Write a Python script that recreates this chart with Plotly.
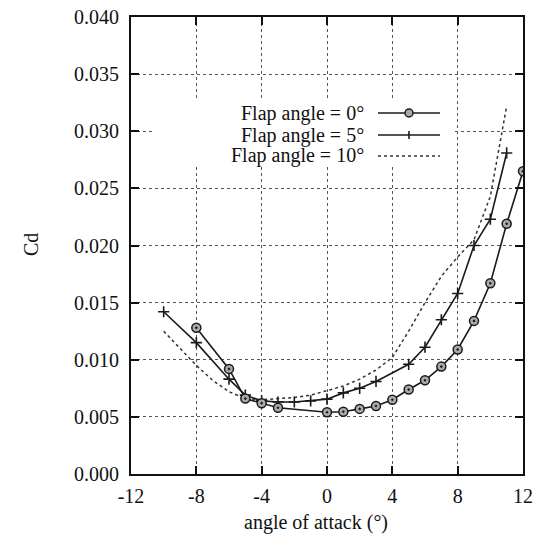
import plotly.graph_objects as go

# angle of attack (deg) and Cd for each flap angle
aoa_0 = [-8, -6, -5, -4, -3, 0, 1, 2, 3, 4, 5, 6, 7, 8, 9, 10, 11, 12]
cd_0 = [0.0128, 0.0092, 0.0066, 0.0062, 0.0058, 0.0054, 0.00545, 0.0057, 0.00595,
        0.0065, 0.0074, 0.0082, 0.0094, 0.0109, 0.0134, 0.0167, 0.0219, 0.0265]

aoa_5 = [-10, -8, -6, -5, -4, -3, -2, -1, 0, 1, 2, 3, 5, 6, 7, 8, 9, 10, 11]
cd_5 = [0.0142, 0.0115, 0.0083, 0.0069, 0.0064, 0.0063, 0.0063, 0.0064, 0.00655,
        0.0071, 0.0075, 0.0081, 0.0096, 0.0111, 0.0135, 0.0158, 0.0200, 0.0223, 0.0281]

aoa_10 = [-10, -9, -8, -7, -6, -5, -4, -3, -2, -1, 0, 1, 2, 3, 4, 5, 6, 7, 8, 9, 10, 11]
cd_10 = [0.0125, 0.0110, 0.0095, 0.0082, 0.0072, 0.0066, 0.0065, 0.0066, 0.0067,
         0.0069, 0.0073, 0.0077, 0.0083, 0.0091, 0.0102, 0.0125, 0.0150, 0.0173,
         0.0190, 0.0205, 0.0243, 0.0322]

legend_labels = ["Flap angle = 0°", "Flap angle = 5°", "Flap angle = 10°"]
x_ticks = [-12, -8, -4, 0, 4, 8, 12]

FONT = "Liberation Serif"
FS = 20
TXT = "#111"
W, H = 541, 543
# plot area in page pixels: x 131..523, y 17..474
PL, PR, PT, PB = 131, 523, 17, 474
L, R, T, B = PL, W - PR, PT, H - PB

fig = go.Figure()
fig.add_trace(go.Scatter(x=aoa_10, y=cd_10, mode="lines",
                         line=dict(color="#333", width=1.5, dash="dot"),
                         name=legend_labels[2], showlegend=False))
fig.add_trace(go.Scatter(x=aoa_5, y=cd_5, mode="lines+markers",
                         line=dict(color="#1a1a1a", width=1.6),
                         marker=dict(symbol="cross-thin", size=8, line=dict(color="#1a1a1a", width=1.6)),
                         name=legend_labels[1], showlegend=False))
fig.add_trace(go.Scatter(x=aoa_0, y=cd_0, mode="lines+markers",
                         line=dict(color="#1a1a1a", width=1.6),
                         marker=dict(symbol="circle-dot", size=9, color="#aaa",
                                     line=dict(color="#1a1a1a", width=1.5)),
                         name=legend_labels[0], showlegend=False))

def px2paper_x(px):
    return (px - PL) / (PR - PL)

def px2paper_y(py):
    return (PB - py) / (PB - PT)

shapes = []
# white legend box
shapes.append(dict(type="rect", xref="paper", yref="paper",
                   x0=px2paper_x(155), x1=px2paper_x(452),
                   y0=px2paper_y(167), y1=px2paper_y(100),
                   fillcolor="white", line=dict(width=0), layer="above"))
annotations = []
rows = [113, 135, 156]
for i, (lab, ry) in enumerate(zip(legend_labels, rows)):
    annotations.append(dict(xref="paper", yref="paper", x=px2paper_x(366), y=px2paper_y(ry),
                            text=lab, showarrow=False, xanchor="right", yanchor="middle",
                            font=dict(family=FONT, size=FS, color=TXT)))
    dash = "dot" if i == 2 else "solid"
    col = "#333" if i == 2 else "#1a1a1a"
    shapes.append(dict(type="line", xref="paper", yref="paper",
                       x0=px2paper_x(378), x1=px2paper_x(440),
                       y0=px2paper_y(ry), y1=px2paper_y(ry),
                       line=dict(color=col, width=1.6, dash=dash), layer="above"))
# legend sample markers
cx, cy = 409, rows[0]
shapes.append(dict(type="circle", xref="paper", yref="paper",
                   x0=px2paper_x(cx - 4), x1=px2paper_x(cx + 4),
                   y0=px2paper_y(cy + 4), y1=px2paper_y(cy - 4),
                   fillcolor="#aaa", line=dict(color="#1a1a1a", width=1.5), layer="above"))
cy = rows[1]
shapes.append(dict(type="line", xref="paper", yref="paper",
                   x0=px2paper_x(cx), x1=px2paper_x(cx),
                   y0=px2paper_y(cy - 4), y1=px2paper_y(cy + 4),
                   line=dict(color="#1a1a1a", width=1.6), layer="above"))

# axis titles
annotations.append(dict(xref="paper", yref="paper", x=px2paper_x(316), y=px2paper_y(522),
                        text="angle of attack (°)", showarrow=False,
                        xanchor="center", yanchor="middle",
                        font=dict(family=FONT, size=FS, color=TXT)))
annotations.append(dict(xref="paper", yref="paper", x=px2paper_x(31), y=px2paper_y(245),
                        text="Cd", showarrow=False, textangle=-90,
                        xanchor="center", yanchor="middle",
                        font=dict(family=FONT, size=FS, color=TXT)))

fig.update_layout(
    width=W, height=H,
    margin=dict(l=L, r=R, t=T, b=B),
    paper_bgcolor="white", plot_bgcolor="white",
    font=dict(family=FONT, size=FS, color=TXT),
    shapes=shapes, annotations=annotations,
    showlegend=False,
)
fig.update_xaxes(range=[-12, 12], tickvals=x_ticks, ticktext=[str(v) for v in x_ticks],
                 showline=True, linecolor="#111", linewidth=2, mirror="ticks",
                 ticks="inside", ticklen=8, tickcolor="#111", tickwidth=1.5,
                 showgrid=True, gridcolor="#555", gridwidth=1, griddash="dot",
                 zeroline=False, automargin=False, ticklabelstandoff=3,
                 tickfont=dict(family=FONT, size=FS, color=TXT))
fig.update_yaxes(range=[0, 0.04], dtick=0.005, tickformat=".3f",
                 showline=True, linecolor="#111", linewidth=2, mirror="ticks",
                 ticks="inside", ticklen=8, tickcolor="#111", tickwidth=1.5,
                 showgrid=True, gridcolor="#555", gridwidth=1, griddash="dot",
                 zeroline=False, automargin=False, ticklabelstandoff=6,
                 tickfont=dict(family=FONT, size=FS, color=TXT))

fig.write_html("out.html", config={"displayModeBar": False},
               post_script="document.body.style.margin='0px';")
